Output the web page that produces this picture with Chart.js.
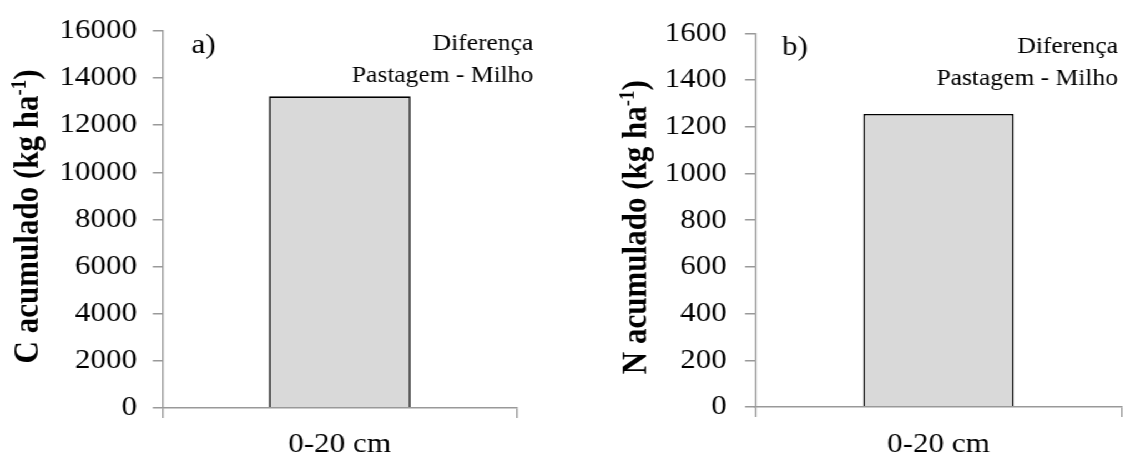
<!DOCTYPE html>
<html>
<head>
<meta charset="utf-8">
<script src="https://cdn.jsdelivr.net/npm/chart.js@4/dist/chart.umd.min.js"></script>
<style>
  body { margin: 0; background: #fff; overflow: hidden; }
  /* the original figure is a bit wider than it is tall, so stretch it the same way */
  #wrap { display: flex; width: 1012px; height: 456px; transform: scaleX(1.11); transform-origin: 0 0; }
  canvas { display: block; }
</style>
</head>
<body>
<div id="wrap">
  <canvas id="chartC" width="504" height="456"></canvas>
  <canvas id="chartN" width="508" height="456"></canvas>
</div>
<script>
// data
const categories = ["0-20 cm"];
const carbonValues = [13220];
const nitrogenValues = [1255];
const carbonTicks = [0, 2000, 4000, 6000, 8000, 10000, 12000, 14000, 16000];
const nitrogenTicks = [0, 200, 400, 600, 800, 1000, 1200, 1400, 1600];
const noteLines = ["Diferença", "Pastagem - Milho"];

const serif = "'Liberation Serif', 'Times New Roman', serif";
const axisGray = "#999999";

// panel letter, text box and the y title with its superscript
const notesPlugin = {
    id: "notes",
    afterDraw(chart, args, opts) {
        const ctx = chart.ctx;
        const area = chart.chartArea;
        ctx.save();
        ctx.fillStyle = "#000";
        ctx.textBaseline = "alphabetic";
        ctx.font = "28px " + serif;
        ctx.textAlign = "left";
        ctx.fillText(opts.letter, area.left + opts.letterDx, area.top + 22);

        ctx.font = "23px " + serif;
        ctx.textAlign = "right";
        noteLines.forEach((t, i) => {
            ctx.fillText(t, area.right + opts.noteDx, area.top + opts.noteDy + i * 32);
        });

        // y title, rotated
        const big = "bold 31px " + serif;
        const small = "bold 19px " + serif;
        const parts = [
            { t: opts.title, f: big, dy: 0 },
            { t: "-1", f: small, dy: -11 },
            { t: ")", f: big, dy: 0 }
        ];
        let total = 0;
        parts.forEach(p => { ctx.font = p.f; p.w = ctx.measureText(p.t).width; total += p.w; });
        ctx.translate(opts.titleX, (area.top + area.bottom) / 2 + opts.titleDy);
        ctx.rotate(-Math.PI / 2);
        ctx.textAlign = "left";
        let x = -total / 2;
        parts.forEach(p => {
            ctx.font = p.f;
            ctx.fillText(p.t, x, 11 + p.dy);
            x += p.w;
        });
        ctx.restore();
    }
};

function makeChart(id, values, ticks, yTitle, cfg) {
    const ctx = document.getElementById(id).getContext("2d");
    return new Chart(ctx, {
        type: "bar",
        data: {
            labels: categories,
            datasets: [{
                data: values,
                backgroundColor: "#d9d9d9",
                borderColor: "#000",
                borderWidth: 1.6,
                barPercentage: cfg.barPct,
                categoryPercentage: 1
            }]
        },
        plugins: [notesPlugin],
        options: {
            responsive: false,
            devicePixelRatio: 1,
            animation: false,
            layout: { padding: { left: 0, top: cfg.top, right: cfg.right, bottom: 0 } },
            plugins: {
                legend: { display: false },
                tooltip: { enabled: false },
                notes: {
                    letter: cfg.letter, letterDx: cfg.letterDx, noteDx: cfg.noteDx, noteDy: cfg.noteDy,
                    title: yTitle, titleX: cfg.titleX, titleDy: cfg.titleDy
                }
            },
            scales: {
                x: {
                    afterFit: s => { s.height = cfg.xHeight; },
                    grid: { offset: true, drawOnChartArea: false, drawTicks: true, tickLength: 10, color: axisGray, lineWidth: 1.4 },
                    border: { display: true, color: axisGray, width: 1.5, z: 1 },
                    ticks: { color: "#000", font: { family: serif, size: 28 }, padding: cfg.xPad, maxRotation: 0 }
                },
                y: {
                    min: ticks[0],
                    max: ticks[ticks.length - 1],
                    afterFit: s => { s.width = cfg.yWidth; },
                    afterBuildTicks: s => { s.ticks = ticks.map(v => ({ value: v })); },
                    grid: { drawOnChartArea: false, drawTicks: true, tickLength: 9, color: axisGray, lineWidth: 1.5 },
                    border: { display: true, color: axisGray, width: 1.4 },
                    ticks: { color: "#000", font: { family: serif, size: 28 }, padding: cfg.yPad, callback: v => String(v) }
                }
            }
        }
    });
}

makeChart("chartC", carbonValues, carbonTicks, "C acumulado (kg ha", {
    top: 28, right: 38.5, xHeight: 48, yWidth: 146.6, xPad: 10, yPad: 14,
    titleX: 23.4, titleDy: -3,
    barPct: 0.4, letter: "a)", letterDx: 26, noteDx: 15, noteDy: 19
});

makeChart("chartN", nitrogenValues, nitrogenTicks, "N acumulado (kg ha", {
    top: 25, right: 1.2, xHeight: 49, yWidth: 176.2, xPad: 11, yPad: 16.5,
    titleX: 67.2, titleDy: 7,
    barPct: 0.41, letter: "b)", letterDx: 24.3, noteDx: -3.6, noteDy: 20
});
</script>
</body>
</html>
